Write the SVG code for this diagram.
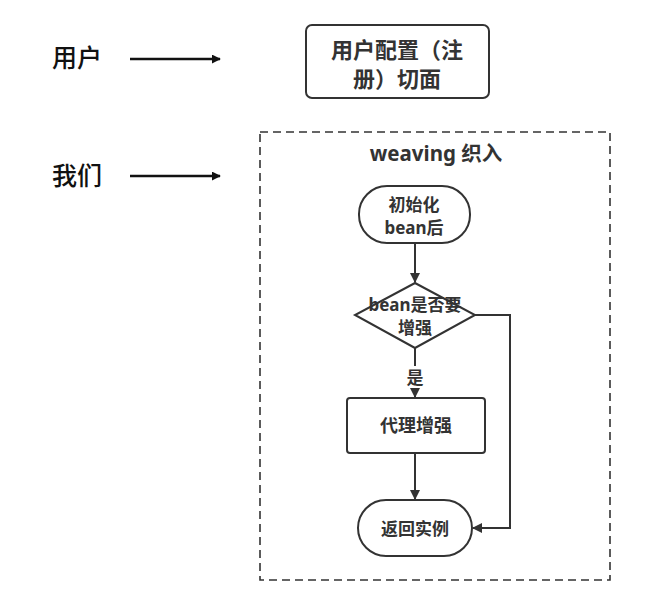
<svg xmlns="http://www.w3.org/2000/svg" width="669" height="609" viewBox="0 0 669 609">
<defs>
<marker id="ah" viewBox="0 0 10 10" refX="9" refY="5" markerWidth="10" markerHeight="10" markerUnits="userSpaceOnUse" orient="auto">
<path d="M0,0 L10,5 L0,10 z" fill="#333"/>
</marker>
<marker id="ah2" viewBox="0 0 10 10" refX="9" refY="5" markerWidth="9" markerHeight="9" markerUnits="userSpaceOnUse" orient="auto">
<path d="M0,0 L10,5 L0,10 z" fill="#111"/>
</marker>
</defs>
<style>
.t{font-family:"Noto Sans","Noto Sans CJK SC",sans-serif;fill:#333;font-weight:bold;text-anchor:middle}
.lbl{font-family:"Noto Sans CJK SC",sans-serif;fill:#111;font-size:25px;font-weight:500}
.n{fill:#fff;stroke:#333;stroke-width:2}
.c{fill:none;stroke:#333;stroke-width:2}
</style>
<rect width="669" height="609" fill="#fff"/>
<g id="label-user"><text class="lbl" x="52" y="67">用户</text></g>
<g id="label-we"><text class="lbl" x="52" y="185">我们</text></g>
<g id="aspect"><rect class="n" x="306" y="25" width="183" height="73" rx="6" stroke-width="2.5"/>
<text class="t" font-size="22" x="397" y="58">用户配置（注</text>
<text class="t" font-size="22" x="397" y="87">册）切面</text></g>
<g id="weaving"><rect x="260" y="132" width="350" height="448" fill="none" stroke="#333" stroke-width="1.6" stroke-dasharray="8,5"/>
<text class="t" font-size="20.5" x="436" y="161">weaving 织入</text></g>
<g id="init"><rect class="n" x="359" y="186" width="111" height="57" rx="28"/>
<text class="t" font-size="17" x="414" y="211">初始化</text>
<text class="t" font-size="17" x="414" y="234">bean后</text></g>
<g id="decide"><polygon class="n" points="415,283 475,315 415,348 355,315"/>
<text class="t" font-size="17" x="415" y="311">bean是否要</text>
<text class="t" font-size="17" x="415" y="334">增强</text></g>
<g id="proxy"><rect class="n" x="347" y="398" width="138" height="55" rx="3"/>
<text class="t" font-size="18" x="416" y="432">代理增强</text></g>
<g id="ret"><rect class="n" x="358" y="500" width="114" height="56" rx="28"/>
<text class="t" font-size="17" x="415" y="535">返回实例</text></g>
<g id="connectors">
<line x1="130" y1="59" x2="220" y2="59" stroke="#111" stroke-width="2.5" marker-end="url(#ah2)"/>
<line x1="130" y1="176" x2="220" y2="176" stroke="#111" stroke-width="2.5" marker-end="url(#ah2)"/>
<line class="c" x1="415" y1="243" x2="415" y2="282" marker-end="url(#ah)"/>
<line class="c" x1="415" y1="348" x2="415" y2="397" marker-end="url(#ah)"/>
<rect x="404" y="366" width="22" height="22" fill="#fff"/>
<text class="t" font-size="17" x="415" y="384">是</text>
<line class="c" x1="415" y1="453" x2="415" y2="499" marker-end="url(#ah)"/>
<polyline class="c" points="475,315 510,315 510,528 473,528" marker-end="url(#ah)"/>
</g>
</svg>
